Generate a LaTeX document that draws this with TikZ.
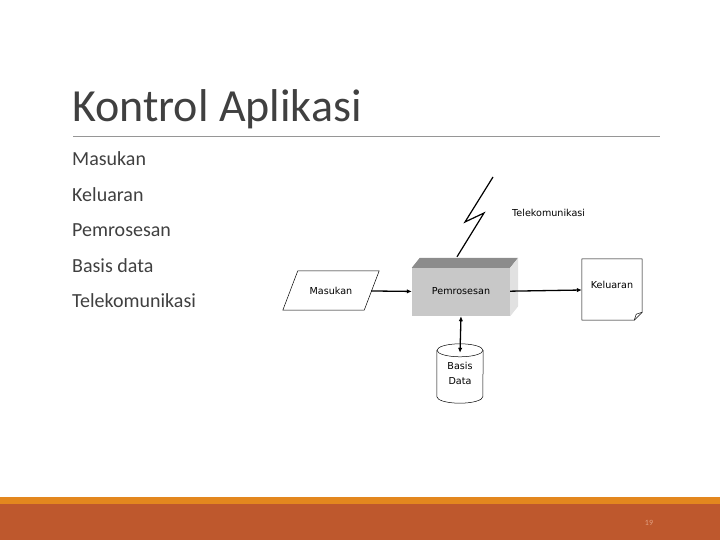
\documentclass[tikz,border=0pt]{standalone}
\usepackage{fontspec}
\setmainfont{Carlito}
\newfontfamily\figfont{DejaVu Sans}
\usepackage{xcolor}
\usepackage{tikz}
\usetikzlibrary{positioning,arrows.meta,shapes.geometric,calc}

\definecolor{textgray}{RGB}{64,64,64}
\definecolor{rulegray}{RGB}{150,150,150}
\definecolor{barorange}{RGB}{227,135,30}
\definecolor{barrust}{RGB}{190,88,45}
\definecolor{numcolor}{RGB}{225,160,130}
\definecolor{frontgray}{RGB}{200,200,200}
\definecolor{topgray}{RGB}{140,140,140}
\definecolor{sidegray}{RGB}{225,225,225}

\begin{document}
\begin{tikzpicture}[x=1pt, y=-1pt,
  bullet/.style={anchor=base west, inner sep=0, text=textgray, font=\fontsize{20}{23}\selectfont},
  figtext/.style={font=\figfont\fontsize{9.6}{15}\selectfont, align=center},
  flow/.style={line width=1.3pt, -{Latex[length=5pt,width=4.5pt]}},
  twoway/.style={line width=1.3pt, {Latex[length=5pt,width=4.5pt]}-{Latex[length=5pt,width=4.5pt]}}]
  \useasboundingbox (0,0) rectangle (720,540);
  % slide frame: title, rule, bottom bars
  \node[anchor=base west, inner sep=0, text=textgray, font=\fontsize{46}{52}\selectfont] (title) at (72,122) {Kontrol Aplikasi};
  \draw[rulegray, line width=0.8pt] (73,136) -- (660,136);
  \fill[barorange] (0,497) rectangle (720,504);
  \fill[barrust] (0,504) rectangle (720,540);
  \node[font=\fontsize{8}{9}\selectfont, text=numcolor] (pagenum) at (649,523) {19};
  % bullet list, 35.5 apart
  \node[bullet] (b1) at (72,165.7) {Masukan};
  \node[bullet] (b2) at (72,201.2) {Keluaran};
  \node[bullet] (b3) at (72,236.7) {Pemrosesan};
  \node[bullet] (b4) at (72,272.2) {Basis data};
  \node[bullet] (b5) at (72,307.7) {Telekomunikasi};
  % processing box, front face + top and side faces
  \node[figtext, fill=frontgray, minimum width=98, minimum height=48, inner sep=0, text height=10pt, text depth=6pt] (proc) at (461,292) {Pemrosesan};
  \fill[topgray] (proc.north west) -- ++(8,-10) -- ($(proc.north east)+(8,-10)$) -- (proc.north east) -- cycle;
  \fill[sidegray] (proc.north east) -- ++(8,-10) -- ($(proc.south east)+(8,-10)$) -- (proc.south east) -- cycle;
  % input, slanted sides drawn round the node
  \node[figtext, minimum width=80, minimum height=39, inner sep=0] (masukan) at (331,290.5) {Masukan};
  \draw[line width=0.5pt] ($(masukan.south west)+(-8,0)$) -- ($(masukan.north west)+(7,0)$)
    -- ($(masukan.north east)+(8,0)$) -- ($(masukan.south east)+(-7,0)$) -- cycle;
  % output document with folded corner
  \node[minimum width=60, minimum height=61, inner sep=0] (keluaran) at (612,289.5) {};
  \draw[line width=0.5pt] (keluaran.north west) -- (keluaran.north east) -- ($(keluaran.south east)+(0,-8)$)
    -- ($(keluaran.south east)+(-8,0)$) -- (keluaran.south west) -- cycle;
  \draw[line width=0.5pt] ($(keluaran.south east)+(0,-8)$) -- ($(keluaran.south east)+(-6,-6)$) -- ($(keluaran.south east)+(-8,0)$);
  \node[figtext] (keluarantext) at (612,285) {Keluaran};
  % database: top ellipse 13 high, drawn round the node
  \node[figtext, minimum width=46, minimum height=59, inner sep=0] (db) at (460,373.5) {Basis\\Data};
  \draw[line width=0.5pt] ($(db.north)+(0,6.5)$) ellipse[x radius=23, y radius=6.5];
  \draw[line width=0.5pt] ($(db.north west)+(0,6.5)$) -- ($(db.south west)+(0,-6.5)$)
    arc[start angle=180, end angle=0, x radius=23, y radius=6.5] -- ($(db.north east)+(0,6.5)$);
  \coordinate (dbin) at ($(db.north)+(0,9)$);
  % telecommunication link
  \coordinate (bolt) at (493,177);
  \draw[line width=1.2pt] (bolt) -- (465,222) -- (484,213) -- ($(proc.north)+(-4,-11)$);
  \node[figtext, anchor=base west, inner sep=0] (telekom) at (512,217) {Telekomunikasi};
  % connectors
  \draw[flow] (masukan) -- (proc);
  \draw[flow] (proc) -- (keluaran);
  \draw[twoway] (proc.south) -- (dbin);
\end{tikzpicture}
\end{document}
